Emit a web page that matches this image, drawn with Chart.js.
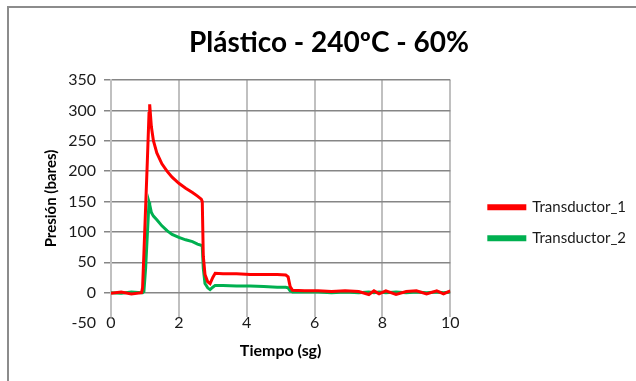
<!DOCTYPE html>
<html lang="es">
<head>
<meta charset="UTF-8">
<title>Plástico - 240ºC - 60%</title>
<script src="https://cdn.jsdelivr.net/npm/chart.js"></script>
<style>
  body { margin: 0; background: #fff; }
  #wrap { position: relative; width: 636px; height: 381px; overflow: hidden; }
  #frame { position: absolute; left: 7px; top: 6px; width: 700px; height: 400px;
           border-left: 2px solid #8c8c8c; border-top: 2px solid #8c8c8c; }
  canvas { position: absolute; left: 0; top: 0; }
</style>
</head>
<body>
<div id="wrap">
  <div id="frame"></div>
  <canvas id="chart" width="636" height="381"></canvas>
</div>
<script>
// tiempo (sg)
const tiempos = [0, 0.3, 0.6, 0.9, 0.93, 0.97, 1.02, 1.07, 1.12, 1.14, 1.19, 1.25, 1.35, 1.5, 1.65, 1.8,
  2.0, 2.2, 2.4, 2.55, 2.66, 2.69, 2.72, 2.77, 2.85, 2.92, 3.0, 3.07, 3.3, 3.7, 4.1, 4.5, 4.9,
  5.15, 5.22, 5.28, 5.35, 5.7, 6.1, 6.5, 6.9, 7.3, 7.6, 7.75, 7.9, 8.1, 8.4, 8.7, 9.0, 9.3, 9.6, 9.8, 10];

// presión (bares)
const transductor1 = [-1, 1, -2, 0, 8, 65, 140, 215, 295, 310, 273, 250, 230, 212, 200, 190,
  180, 172, 165, 159, 154, 150, 60, 30, 18, 15, 25, 32, 31, 31, 30, 30, 30,
  29, 26, 10, 4, 3, 3, 2, 3, 2, -3, 3, -2, 3, -3, 2, 3, -2, 3, -2, 3];

const transductor2 = [0, -1, 1, 0, 0, 2, 40, 95, 149, 145, 132, 126, 120, 110, 102, 96,
  91, 87, 84, 80, 78, 76, 40, 15, 8, 5, 9, 12, 12, 11, 11, 10, 9,
  9, 8, 3, 1, 1, 1, 0, 1, 0, 1, 0, 1, 0, 1, 0, 1, 0, 1, 0, 1];

const seriesNames = ['Transductor_1', 'Transductor_2'];
const seriesColors = ['#ff0000', '#00b050'];

const xTicks = [0, 2, 4, 6, 8, 10];
const yTicks = [-50, 0, 50, 100, 150, 200, 250, 300, 350];

const FONT = 'Lato, "Open Sans", sans-serif';
const TXT = '#1a1a1a';

const toPoints = vals => tiempos.map((t, i) => ({ x: t, y: vals[i] }));

new Chart(document.getElementById('chart'), {
  type: 'line',
  data: {
    datasets: [transductor1, transductor2].map((vals, i) => ({
      label: seriesNames[i],
      data: toPoints(vals),
      borderColor: seriesColors[i],
      backgroundColor: seriesColors[i],
      borderWidth: 3,
      pointRadius: 0,
      tension: 0
    }))
  },
  options: {
    responsive: false,
    animation: false,
    layout: { padding: { left: 22, right: 0, top: 0, bottom: 0 } },
    plugins: {
      title: {
        display: true,
        text: 'Plástico - 240ºC - 60%',
        color: '#000',
        font: { family: FONT, size: 28, weight: 'bold' },
        padding: { top: 26.5, bottom: 19.9 }
      },
      legend: {
        position: 'right',
        maxWidth: 200,
        title: { display: true, text: ' ', font: { size: 12 }, padding: { top: 50, bottom: 0 } },
        labels: {
          color: TXT,
          font: { family: FONT, size: 15 },
          boxWidth: 36,
          boxHeight: 3,
          padding: 16
        }
      },
      tooltip: { enabled: false }
    },
    scales: {
      x: {
        type: 'linear',
        min: 0,
        max: 10,
        afterBuildTicks: s => { s.ticks = xTicks.map(v => ({ value: v })); },
        afterFit: s => { s.height = 64; },
        ticks: { color: TXT, font: { family: FONT, size: 16 }, padding: -4 },
        grid: { color: '#c0c0c0', lineWidth: 2, drawTicks: false },
        border: { display: false },
        title: { display: true, text: 'Tiempo (sg)', color: '#000',
                 font: { family: FONT, size: 16, weight: 'bold' }, padding: { top: 0, bottom: 21 } }
      },
      y: {
        min: -40,
        max: 350,
        afterBuildTicks: s => { s.ticks = yTicks.map(v => ({ value: v })); },
        afterFit: s => { s.width = 89; },
        ticks: { color: TXT, font: { family: FONT, size: 16 }, padding: 8 },
        grid: {
          color: c => c.tick && c.tick.value === -50 ? 'rgba(0,0,0,0)' : '#868686',
          lineWidth: 1.5,
          tickLength: 7
        },
        border: { display: true, color: '#c0c0c0', width: 2 },
        title: { display: true, text: 'Presión (bares)', color: '#000',
                 font: { family: FONT, size: 15, weight: 'bold' }, padding: { top: 20, bottom: 0 } }
      },
      // empty gap between the plot and the legend
      gap: {
        position: 'right',
        display: true,
        afterFit: s => { s.width = 22.5; },
        ticks: { display: false },
        grid: { display: false },
        border: { display: false }
      }
    }
  }
});
</script>
</body>
</html>
